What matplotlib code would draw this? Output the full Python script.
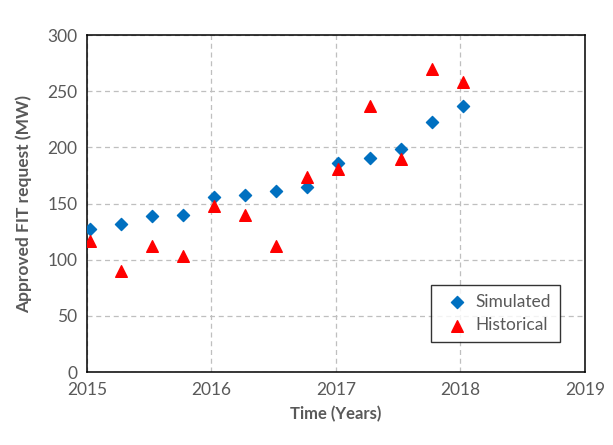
import numpy as np
import matplotlib.pyplot as plt

plt.rcParams['font.family'] = ['Lato', 'DejaVu Sans']

# quarterly time points
t = 2015.02 + 0.25 * np.arange(13)
simulated = [127, 132, 139, 140, 156, 158, 161, 165, 186, 191, 199, 223, 237]
historical = [117, 90, 112, 103, 148, 140, 112, 174, 181, 237, 190, 270, 258]

fig = plt.figure(figsize=(6.13, 4.45), dpi=100)
ax = fig.add_axes([0.142, 0.164, 0.812, 0.757])

ax.scatter(t, simulated, marker='D', s=38, color='#0070C0', label='Simulated', zorder=3)
ax.scatter(t, historical, marker='^', s=70, color='#FF0000', label='Historical', zorder=3)

ax.set_xlim(2015, 2019)
ax.set_ylim(0, 300)
ax.set_xticks([2015, 2016, 2017, 2018, 2019])
ax.set_yticks(np.arange(0, 301, 50))
ax.tick_params(length=0, labelsize=12.5, labelcolor='#595959', pad=7)
ax.grid(True, linestyle=(0, (4, 3)), color='#BFBFBF', linewidth=0.9)
ax.set_axisbelow(True)
for s in ax.spines.values():
    s.set_color('black')
    s.set_linewidth(1.1)

ax.set_xlabel('Time (Years)', fontsize=12, fontweight='bold', color='#595959', labelpad=6)
ax.set_ylabel('Approved FIT request (MW)', fontsize=12.5, fontweight='bold', color='#595959', labelpad=11)

leg = ax.legend(loc='lower right', bbox_to_anchor=(0.95, 0.089), borderaxespad=0,
                fontsize=12.5, frameon=True, fancybox=False, edgecolor='black',
                handletextpad=0.1, borderpad=0.5, labelspacing=0.45)
leg.get_frame().set_linewidth(1.0)
for txt in leg.get_texts():
    txt.set_color('#595959')

fig.savefig('out.png', dpi=100)
